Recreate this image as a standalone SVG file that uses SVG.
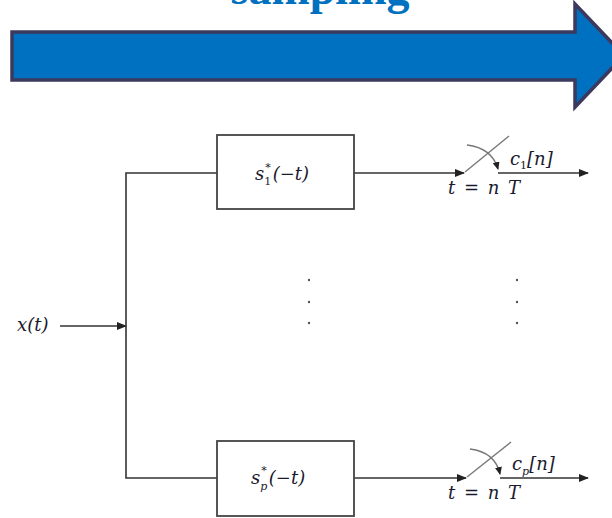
<svg xmlns="http://www.w3.org/2000/svg" width="612" height="518" viewBox="0 0 612 518">
<defs>
<style>
.ln{stroke:#333;stroke-width:1.6;fill:none}
.box{stroke:#444;stroke-width:1.8;fill:#fff}
.sw{stroke:#777;stroke-width:1.4;fill:none}
.m{font-family:"DejaVu Serif",serif;font-style:italic;font-size:18px;fill:#1a1a2e}
.sub{font-size:11px;font-style:normal}
.subi{font-size:11px;font-style:italic}
.dot{fill:#555}
</style>
<marker id="ah" markerWidth="10" markerHeight="8" refX="9" refY="4" orient="auto" markerUnits="userSpaceOnUse">
<path d="M0,0 L10,4 L0,8 Z" fill="#222"/>
</marker>
<marker id="ahs" markerWidth="8" markerHeight="7" refX="7" refY="3.5" orient="auto" markerUnits="userSpaceOnUse">
<path d="M0,0 L8,3.5 L0,7 Z" fill="#222"/>
</marker>
</defs>
<rect width="612" height="518" fill="#fff"/>
<g id="title">
<text x="320" y="4" text-anchor="middle" font-family="Liberation Serif,serif" font-weight="bold" font-size="46" fill="#0070C0">sampling</text>
</g>
<g id="big-arrow">
<path d="M12,32 L575,32 L575,4 L624,55.5 L575,107 L575,80 L12,80 Z" fill="#0070C0" stroke="#3b3a5e" stroke-width="3.5" stroke-linejoin="miter"/>
</g>
<g id="connectors">
<line class="ln" x1="60" y1="326" x2="126" y2="326" marker-end="url(#ah)"/>
<polyline class="ln" points="217,173 126,173 126,478 217,478"/>
<line class="ln" x1="354" y1="173" x2="464" y2="173" marker-end="url(#ah)"/>
<line class="ln" x1="498" y1="173" x2="588" y2="173" marker-end="url(#ah)"/>
<line class="ln" x1="354" y1="478" x2="466" y2="478" marker-end="url(#ah)"/>
<line class="ln" x1="500" y1="478" x2="588" y2="478" marker-end="url(#ah)"/>
</g>
<g id="input">
<text class="m" x="17" y="331">x(t)</text>
</g>
<g id="filter1">
<rect class="box" x="217" y="135" width="137" height="74"/>
<text class="m" x="255" y="180">s<tspan class="sub" dy="5">1</tspan><tspan class="sub" dx="-6" dy="-14">*</tspan><tspan dy="9" dx="2">(−t)</tspan></text>
</g>
<g id="filterp">
<rect class="box" x="217" y="441" width="137" height="75"/>
<text class="m" x="251" y="484">s<tspan class="subi" dy="6">p</tspan><tspan class="sub" dx="-6" dy="-16">*</tspan><tspan dy="10" dx="2">(−t)</tspan></text>
</g>
<g id="sampler1">
<line class="sw" x1="465" y1="172" x2="509" y2="136"/>
<path class="sw" d="M467,145 Q492,148 498,169" marker-end="url(#ahs)"/>
<text class="m" x="510" y="165">c<tspan class="sub" dy="4">1</tspan><tspan dy="-4">[n]</tspan></text>
<text class="m" x="448" y="194" textLength="72">t = n T</text>
</g>
<g id="samplerp">
<line class="sw" x1="467" y1="477" x2="511" y2="442"/>
<path class="sw" d="M470,449 Q495,452 500,474" marker-end="url(#ahs)"/>
<text class="m" x="512" y="470">c<tspan class="subi" dy="5">p</tspan><tspan dy="-5">[n]</tspan></text>
<text class="m" x="448" y="499" textLength="72">t = n T</text>
</g>
<g id="ellipsis">
<circle class="dot" cx="309" cy="280" r="1.2"/>
<circle class="dot" cx="309" cy="302" r="1.2"/>
<circle class="dot" cx="309" cy="323" r="1.2"/>
<circle class="dot" cx="517" cy="280" r="1.2"/>
<circle class="dot" cx="517" cy="302" r="1.2"/>
<circle class="dot" cx="517" cy="323" r="1.2"/>
</g>
</svg>
